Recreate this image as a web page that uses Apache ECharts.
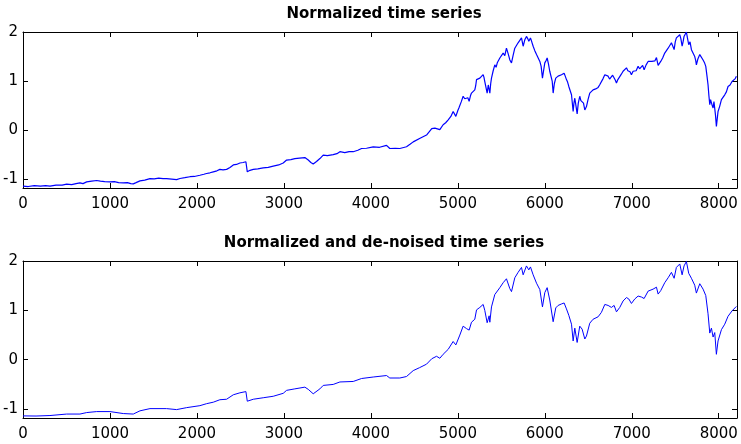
<!DOCTYPE html>
<html>
<head>
<meta charset="utf-8">
<script src="https://cdn.jsdelivr.net/npm/echarts@6/dist/echarts.min.js"></script>
<style>
html,body{margin:0;padding:0;background:#fff;}
#chart{width:741px;height:444px;}
</style>
</head>
<body>
<div id="chart"></div>
<script>
// values (top panel: raw, bottom panel: de-noised)
let rawX = [0,60,130,200,260,310,380,450,502,560,610,655,690,732,790,847,890,940,1000,1050,1100,1153,1200,1240,1268,1300,1345,1400,1460,1510,
  1560,1610,1651,1710,1766,1805,1860,1920,1970,2034,2080,2111,2150,2188,2230,2264,2300,2341,2380,2418,2455,2494,2530,2563,2579,2610,2648,2700,2762,2820,
  2877,2940,2992,3031,3080,3126,3180,3241,3280,3310,3337,3375,3414,3452,3500,3567,3610,3644,3700,3750,3797,3850,3893,3950,4027,4100,4180,4218,4280,4333,
  4410,4450,4487,4560,4640,4700,4736,4755,4793,4831,4860,4889,4920,4946,4977,5000,5012,5023,5040,5061,5080,5100,5115,5130,5145,5157,5175,5195,5205,5215,
  5235,5253,5270,5291,5300,5310,5325,5337,5350,5360,5368,5378,5387,5405,5425,5440,5455,5470,5483,5500,5521,5540,5559,5580,5598,5617,5635,5655,5675,5693,
  5712,5732,5751,5770,5789,5805,5816,5835,5850,5866,5885,5905,5925,5943,5958,5973,5985,6000,6015,6027,6042,6057,6075,6085,6096,6110,6126,6140,6153,6175,
  6192,6205,6222,6235,6249,6262,6276,6290,6307,6326,6335,6345,6358,6372,6385,6402,6415,6429,6445,6460,6479,6497,6517,6535,6555,6585,6613,6630,6651,6670,
  6690,6710,6728,6745,6766,6780,6797,6810,6824,6840,6862,6880,6900,6920,6939,6955,6966,6980,6996,7015,7034,7050,7073,7090,7111,7125,7142,7165,7188,7210,
  7230,7245,7265,7284,7303,7318,7333,7355,7379,7398,7418,7437,7456,7470,7487,7500,7513,7530,7552,7565,7579,7590,7601,7615,7628,7640,7655,7670,7686,7705,
  7724,7735,7743,7760,7782,7800,7820,7835,7851,7865,7877,7887,7897,7906,7916,7925,7935,7945,7954,7963,7973,7982,7992,8010,8031,8050,8069,8088,8107,8130,
  8153,8175,8190,8203];
let rawY = [-1.14,-1.15,-1.13,-1.14,-1.13,-1.14,-1.12,-1.12,-1.10,-1.11,-1.09,-1.075,-1.09,-1.055,-1.04,-1.027,-1.04,-1.05,-1.055,-1.05,-1.07,-1.075,-1.07,-1.09,-1.095,-1.07,-1.034,-1.02,-0.99,-0.995,
  -0.98,-0.99,-0.99,-1.0,-1.01,-0.986,-0.97,-0.95,-0.945,-0.92,-0.90,-0.885,-0.87,-0.85,-0.83,-0.80,-0.81,-0.80,-0.76,-0.71,-0.70,-0.67,-0.66,-0.645,-0.85,-0.82,-0.80,-0.79,-0.77,-0.76,
  -0.735,-0.71,-0.67,-0.61,-0.60,-0.58,-0.57,-0.56,-0.61,-0.66,-0.69,-0.64,-0.58,-0.51,-0.52,-0.50,-0.48,-0.44,-0.46,-0.44,-0.44,-0.41,-0.375,-0.37,-0.34,-0.35,-0.31,-0.375,-0.37,-0.375,
  -0.34,-0.29,-0.24,-0.17,-0.10,0.03,0.04,0.07,0.01,0.11,0.15,0.21,0.28,0.38,0.28,0.40,0.45,0.48,0.58,0.69,0.64,0.62,0.66,0.585,0.70,0.755,0.73,0.82,0.90,1.03,
  1.00,1.06,1.04,1.13,1.08,0.99,1.02,0.755,0.92,0.89,0.755,0.95,1.06,1.20,1.33,1.28,1.38,1.36,1.47,1.44,1.57,1.52,1.67,1.55,1.43,1.37,1.52,1.67,1.63,1.78,
  1.74,1.88,1.71,1.84,1.91,1.86,1.81,1.88,1.80,1.71,1.62,1.54,1.50,1.40,1.30,1.06,1.20,1.37,1.42,1.47,1.35,1.20,1.18,1.00,0.755,0.95,1.06,1.02,1.10,1.08,
  1.13,1.09,1.16,1.10,1.03,0.98,0.89,0.85,0.72,0.38,0.55,0.65,0.50,0.33,0.55,0.69,0.60,0.62,0.55,0.41,0.48,0.62,0.755,0.72,0.82,0.84,0.87,0.92,0.96,1.05,
  1.13,1.09,1.10,1.04,1.06,1.12,1.10,1.02,0.96,1.03,1.06,1.14,1.20,1.18,1.27,1.21,1.23,1.19,1.13,1.20,1.23,1.21,1.30,1.25,1.27,1.32,1.23,1.33,1.40,1.37,
  1.40,1.43,1.41,1.48,1.32,1.36,1.40,1.47,1.57,1.60,1.67,1.70,1.78,1.72,1.64,1.80,1.88,1.85,1.945,1.86,1.71,1.80,1.91,1.88,2.0,1.88,1.74,1.80,1.64,1.60,
  1.50,1.42,1.33,1.45,1.54,1.50,1.43,1.38,1.30,1.10,0.925,0.70,0.52,0.62,0.65,0.50,0.45,0.58,0.55,0.30,0.075,0.22,0.38,0.48,0.62,0.60,0.72,0.78,0.89,0.92,
  0.99,1.02,1.05,1.10];

let cleanX = [0,150,310,502,655,732,847,1000,1153,1268,1345,1460,1651,1766,1882,2034,2111,2188,2264,2341,2418,2494,2563,2579,2648,2762,2877,2992,3031,3126,
  3241,3280,3337,3414,3452,3567,3644,3797,3893,4027,4180,4218,4333,4410,4487,4560,4640,4700,4755,4793,4831,4889,4946,4977,5023,5061,5100,5130,5157,5195,
  5215,5253,5291,5310,5337,5360,5368,5387,5425,5483,5521,5559,5598,5617,5655,5693,5732,5751,5789,5816,5835,5866,5905,5943,5973,6000,6027,6057,6096,6126,
  6153,6192,6222,6249,6276,6307,6326,6345,6372,6402,6429,6460,6479,6517,6555,6613,6651,6690,6728,6766,6797,6824,6862,6900,6939,6966,6996,7034,7073,7111,
  7142,7188,7245,7284,7303,7333,7379,7418,7456,7487,7513,7552,7579,7601,7628,7655,7686,7724,7743,7782,7820,7851,7877,7897,7916,7935,7954,7973,7992,8031,
  8069,8107,8153,8203];
let cleanY = [-1.137,-1.14,-1.13,-1.10,-1.10,-1.07,-1.05,-1.05,-1.09,-1.10,-1.035,-0.99,-0.99,-1.01,-0.97,-0.93,-0.89,-0.86,-0.81,-0.80,-0.71,-0.67,-0.645,-0.84,-0.80,-0.77,-0.74,-0.68,-0.62,-0.59,
  -0.555,-0.60,-0.69,-0.59,-0.52,-0.50,-0.45,-0.44,-0.38,-0.35,-0.32,-0.37,-0.37,-0.34,-0.22,-0.16,-0.09,0.02,0.07,0.03,0.11,0.21,0.37,0.30,0.50,0.68,0.63,0.60,0.76,0.82,
  1.01,1.06,1.12,1.0,0.75,0.89,0.76,1.07,1.32,1.46,1.56,1.64,1.44,1.38,1.66,1.77,1.87,1.72,1.90,1.82,1.88,1.72,1.55,1.42,1.07,1.36,1.46,1.21,0.77,1.05,
  1.10,1.13,1.15,1.03,0.90,0.72,0.38,0.64,0.35,0.68,0.62,0.42,0.48,0.74,0.82,0.87,0.96,1.12,1.10,1.06,1.10,0.97,1.06,1.19,1.26,1.23,1.14,1.23,1.29,1.27,
  1.24,1.39,1.43,1.47,1.33,1.40,1.56,1.66,1.77,1.65,1.87,1.94,1.72,1.90,1.99,1.75,1.65,1.51,1.35,1.54,1.43,1.30,0.93,0.54,0.64,0.46,0.55,0.11,0.38,0.61,
  0.72,0.88,0.99,1.08];

let xTicks = [0,1000,2000,3000,4000,5000,6000,7000,8000];
let yTicks = [-1,0,1,2];
let titles = ['Normalized time series', 'Normalized and de-noised time series'];

let pairs = function(xs, ys) {
    let out = [];
    for (let i = 0; i < xs.length; i++) out.push([xs[i], ys[i]]);
    return out;
};

let labelFont = {fontFamily: 'DejaVu Sans', fontSize: 15, color: '#000'};

let xAx = function(g, pos) {
    return {
        gridIndex: g, type: 'value', position: pos, min: 0, max: 8210,
        axisLine: {show: true, onZero: false, lineStyle: {color: '#000', width: 1}},
        axisTick: {show: true, inside: true, length: 5, customValues: xTicks, lineStyle: {color: '#000'}},
        axisLabel: Object.assign({show: pos === 'bottom', margin: 9, customValues: xTicks,
            formatter: function (v) { return String(v); }}, labelFont),
        splitLine: {show: false}
    };
};
let yAx = function(g, pos) {
    return {
        gridIndex: g, type: 'value', position: pos, min: -1.18, max: 2,
        axisLine: {show: true, onZero: false, lineStyle: {color: '#000', width: 1}},
        axisTick: {show: true, inside: true, length: 5, customValues: yTicks, lineStyle: {color: '#000'}},
        axisLabel: Object.assign({show: pos === 'left', margin: 5, customValues: yTicks,
            formatter: function (v) { return String(v); }}, labelFont),
        splitLine: {show: false}
    };
};

let option = {
    animation: false,
    title: [
        {text: titles[0], left: 379, top: 2, textAlign: 'center',
         textStyle: {fontFamily: 'DejaVu Sans', fontSize: 15, fontWeight: 'bold', color: '#000'}},
        {text: titles[1], left: 379, top: 231, textAlign: 'center',
         textStyle: {fontFamily: 'DejaVu Sans', fontSize: 15, fontWeight: 'bold', color: '#000'}}
    ],
    grid: [
        {left: 23, top: 32, width: 714, height: 156},
        {left: 23, top: 261, width: 714, height: 157}
    ],
    xAxis: [xAx(0, 'bottom'), xAx(0, 'top'), xAx(1, 'bottom'), xAx(1, 'top')],
    yAxis: [yAx(0, 'left'), yAx(0, 'right'), yAx(1, 'left'), yAx(1, 'right')],
    series: [{
        type: 'line', xAxisIndex: 0, yAxisIndex: 0, showSymbol: false,
        lineStyle: {color: '#0000ff', width: 1.2}, data: pairs(rawX, rawY)
    }, {
        type: 'line', xAxisIndex: 2, yAxisIndex: 2, showSymbol: false,
        lineStyle: {color: '#0000ff', width: 1}, data: pairs(cleanX, cleanY)
    }]
};

let myChart = echarts.init(document.getElementById('chart'));
myChart.setOption(option);
</script>
</body>
</html>
